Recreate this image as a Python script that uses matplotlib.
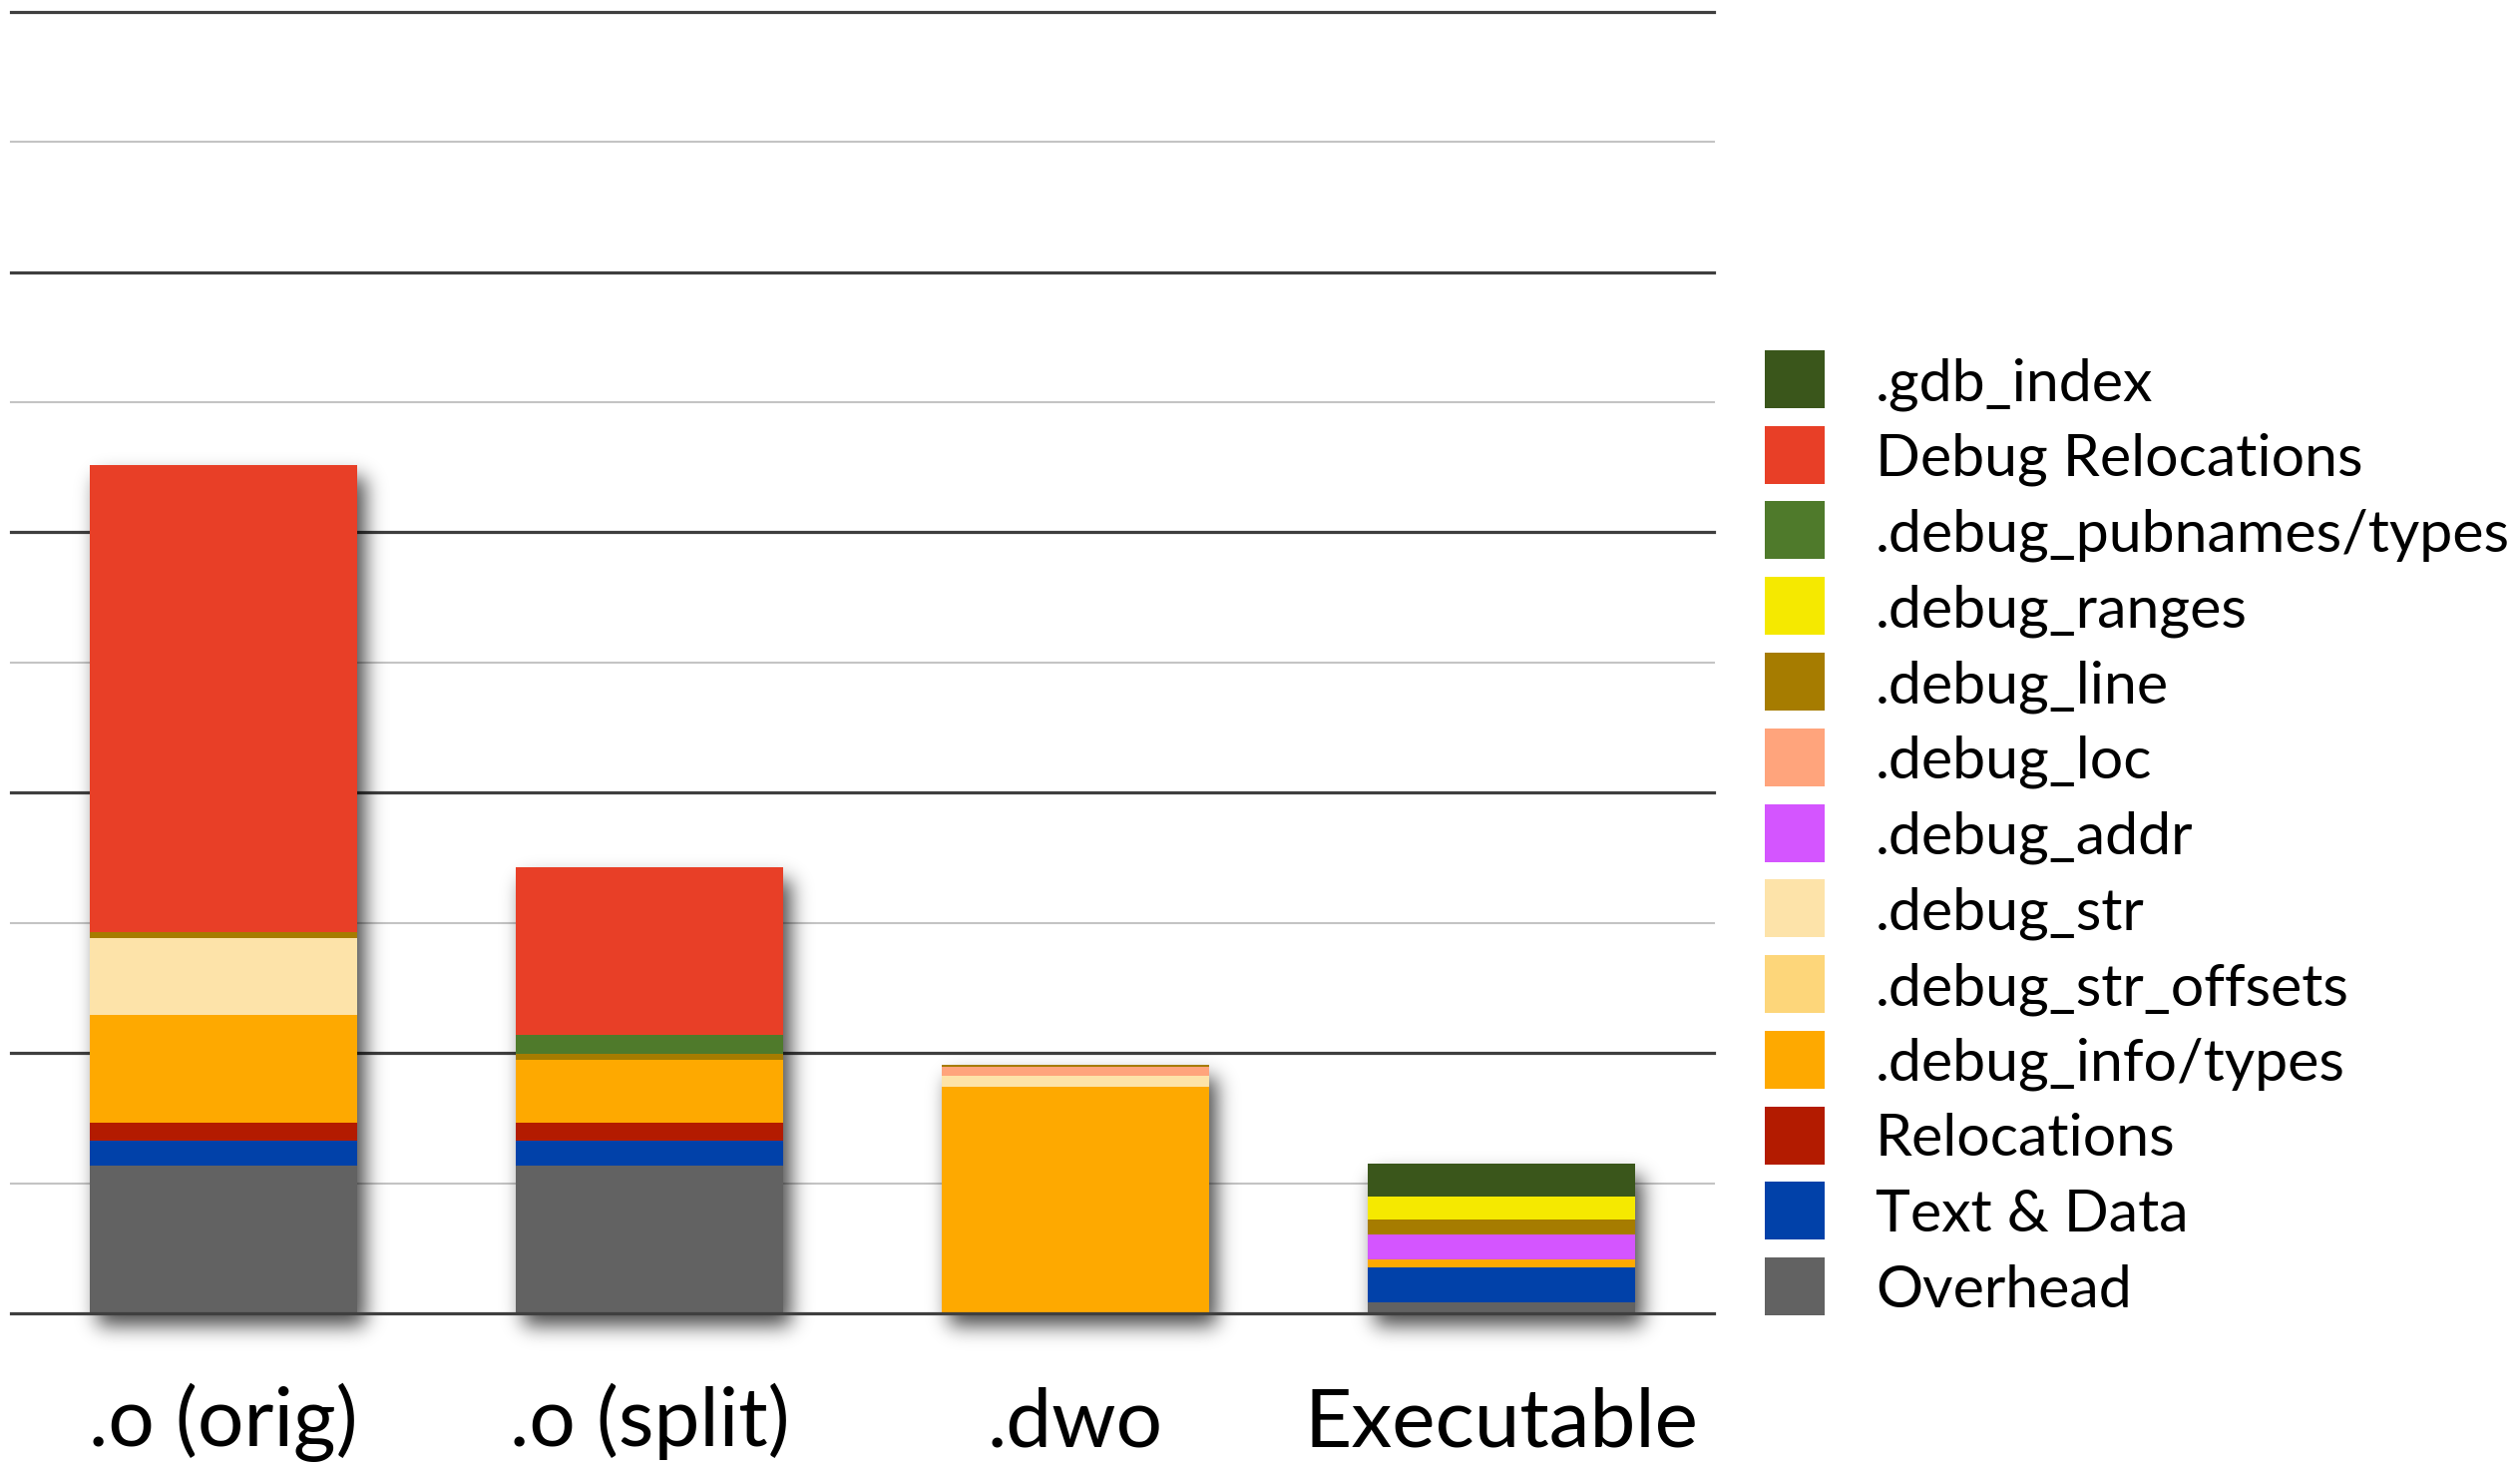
import math
import numpy as np
import matplotlib.pyplot as plt
from matplotlib.patches import Rectangle

plt.rcParams['font.family'] = ['Lato', 'DejaVu Sans']

categories = ['.o (orig)', '.o (split)', '.dwo', 'Executable']

# section sizes per file (1 unit = one gridline step)
overhead       = [1.135, 1.135, 0.000, 0.084]
text_data      = [0.190, 0.190, 0.000, 0.268]
relocations    = [0.140, 0.140, 0.000, 0.000]
debug_info     = [0.828, 0.483, 1.740, 0.061]
debug_str_offs = [0.000, 0.000, 0.000, 0.000]
debug_str      = [0.590, 0.000, 0.084, 0.000]
debug_addr     = [0.000, 0.000, 0.000, 0.190]
debug_loc      = [0.000, 0.000, 0.069, 0.000]
debug_line     = [0.046, 0.046, 0.013, 0.115]
debug_ranges   = [0.000, 0.000, 0.000, 0.176]
debug_pubnames = [0.000, 0.143, 0.000, 0.000]
debug_relocs   = [3.590, 1.290, 0.000, 0.000]
gdb_index      = [0.000, 0.000, 0.000, 0.253]

# bottom -> top of each stack
sections = [
    ('Overhead', overhead, '#626262'),
    ('Text & Data', text_data, '#0141A9'),
    ('Relocations', relocations, '#B31B00'),
    ('.debug_info/types', debug_info, '#FEA900'),
    ('.debug_str_offsets', debug_str_offs, '#FDD67A'),
    ('.debug_str', debug_str, '#FDE3A9'),
    ('.debug_addr', debug_addr, '#D455FF'),
    ('.debug_loc', debug_loc, '#FFA47C'),
    ('.debug_line', debug_line, '#A67C00'),
    ('.debug_ranges', debug_ranges, '#F5E900'),
    ('.debug_pubnames/types', debug_pubnames, '#4F7A2B'),
    ('Debug Relocations', debug_relocs, '#E83F27'),
    ('.gdb_index', gdb_index, '#3A561B'),
]

W, H = 2526, 1470
fig = plt.figure(figsize=(W / 100, H / 100), dpi=100)
ax = fig.add_axes([10.5 / W, 154 / H, 1708 / W, 1304.3 / H])

x = np.arange(len(categories))
bar_w = 0.628
xpx = 1708 / 4.0      # px per x unit
ypx = 1304.3 / 10.0   # px per y unit

# drop shadow (blurred, offset rectangle under every bar)
totals = np.sum([s[1] for s in sections], axis=0)
gx = np.linspace(-0.5, 3.5, 1708)
gy = np.linspace(-0.6, 10, 1380)
erf = np.vectorize(math.erf)
dx, dy, sx, sy = 7 / xpx, 13 / ypx, 10 / xpx, 10 / ypx
alpha = np.zeros((gy.size, gx.size))
for i, tot in enumerate(totals):
    x0, x1 = i - bar_w / 2 + dx, i + bar_w / 2 + dx
    y0, y1 = -dy, tot - dy
    axp = 0.5 * (erf((gx - x0) / (math.sqrt(2) * sx)) - erf((gx - x1) / (math.sqrt(2) * sx)))
    ayp = 0.5 * (erf((gy - y0) / (math.sqrt(2) * sy)) - erf((gy - y1) / (math.sqrt(2) * sy)))
    alpha = np.maximum(alpha, np.outer(ayp, axp))
img = np.zeros((gy.size, gx.size, 4))
img[..., 3] = 0.72 * alpha
ax.imshow(img, extent=(-0.5, 3.5, -0.6, 10), origin='lower', aspect='auto',
          zorder=2, interpolation='bilinear', clip_on=False)

# gridlines
for g in range(0, 11):
    if g % 2 == 0:
        ax.axhline(g, color='#3f3f3f', lw=2.3, zorder=1 if g else 5, clip_on=False)
    else:
        ax.axhline(g, color='#c4c4c4', lw=1.5, zorder=1, clip_on=False)

bottom = np.zeros(len(categories))
for name, vals, col in sections:
    ax.bar(x, vals, bottom=bottom, width=bar_w, color=col, linewidth=0, zorder=3)
    bottom += np.array(vals)

ax.set_xlim(-0.5, 3.5)
ax.set_ylim(0, 10)
for s in ax.spines.values():
    s.set_visible(False)
ax.set_yticks([])
ax.set_xticks(x)
ax.set_xticklabels(categories, fontsize=59)
ax.tick_params(axis='x', length=0, pad=96)
for lbl in ax.get_xticklabels():
    lbl.set_va('baseline')

# legend, top entry first
for i, (name, vals, col) in enumerate(reversed(sections)):
    top = 351 + i * 75.75
    fig.add_artist(Rectangle((1769 / W, 1 - (top + 58) / H), 60 / W, 58 / H,
                             transform=fig.transFigure, color=col, lw=0))
    fig.text(1880 / W, 1 - (top + 50) / H, name, fontsize=42.5, va='baseline', ha='left')

fig.savefig('out.png', dpi=100, facecolor='white')
